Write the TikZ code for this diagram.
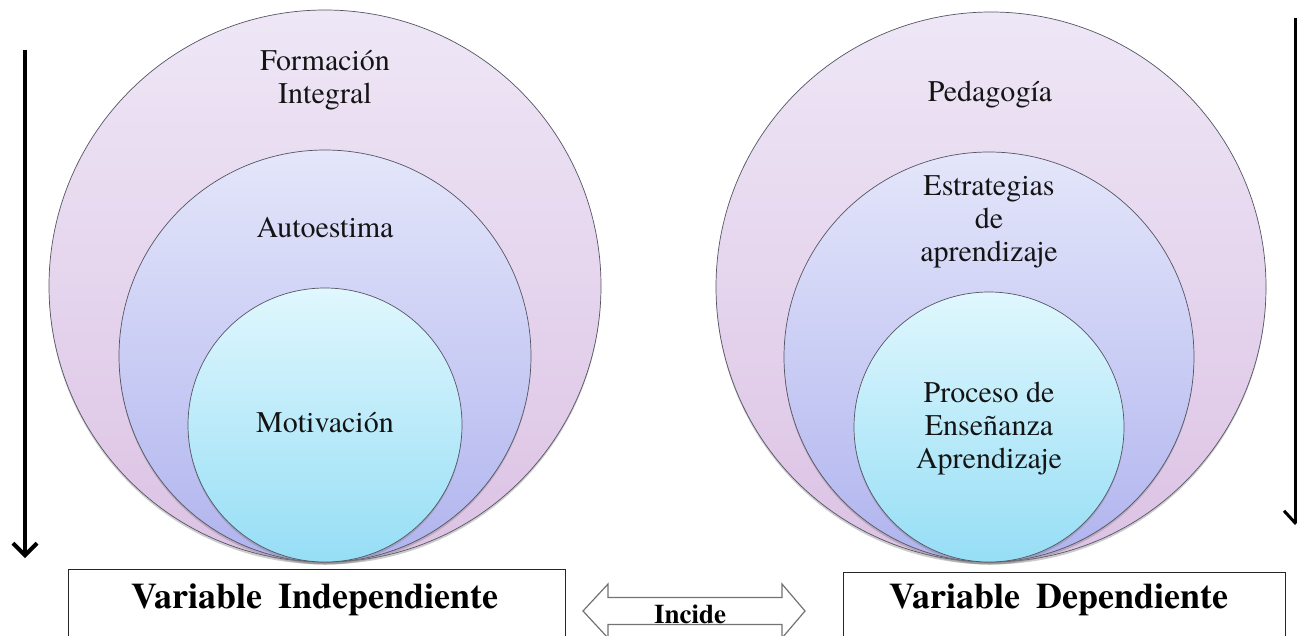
\documentclass[tikz,border=0pt]{standalone}
\usepackage{fontspec}
\setmainfont{TeX Gyre Termes}
\usetikzlibrary{arrows.meta,shadows}
\definecolor{outTop}{RGB}{238,231,246}
\definecolor{outBot}{RGB}{220,194,228}
\definecolor{midTop}{RGB}{228,230,250}
\definecolor{midBot}{RGB}{176,180,238}
\definecolor{inTop}{RGB}{224,247,253}
\definecolor{inBot}{RGB}{150,222,246}
\definecolor{ringLine}{RGB}{85,85,100}
\tikzset{
  ring/.style={circle, inner sep=0pt, draw=ringLine, line width=0.7pt,
     drop shadow={shadow xshift=0pt, shadow yshift=-2.5pt, opacity=0.4}},
  outring/.style={ring, top color=outTop, bottom color=outBot},
  midring/.style={ring, top color=midTop, bottom color=midBot},
  inring/.style={ring, top color=inTop, bottom color=inBot},
  lbl/.style={align=center, inner sep=0pt, text=black!92,
     font=\fontsize{30}{33}\selectfont},
  varbox/.style={draw=black!85, line width=1.2pt, fill=white, inner sep=0pt, anchor=north west},
  vartext/.style={inner sep=0pt, anchor=base, font=\bfseries\fontsize{36}{40}\selectfont},
  bigarrow/.style={line width=4pt, -{Straight Barb[length=12pt,width=24pt]}},
}
\begin{document}
\begin{tikzpicture}[x=1pt,y=-1pt]
\useasboundingbox (0,0) rectangle (1297,635);
\fill[white] (0,0) rectangle (1297,635);
% left circles
\node[outring, minimum size=552pt] (lo) at (325,286) {};
\node[midring, minimum size=412pt] (lm) at (325,356) {};
\node[inring, minimum size=274pt] (li) at (325,425) {};
\node[lbl] (tfi) at (325,80) {Formación\\Integral};
\node[lbl] (tau) at (325,228) {Autoestima};
\node[lbl] (tmo) at (325,423) {Motivación};
% right circles
\node[outring, minimum size=550pt] (ro) at (991,287) {};
\node[midring, minimum size=410pt] (rm) at (989,357) {};
\node[inring, minimum size=270pt] (ri) at (989,427) {};
\node[lbl] (tpe) at (990,95) {Pedagogía};
\node[lbl] (tes) at (989,222) {Estrategias\\de\\aprendizaje};
\node[lbl] (tpr) at (989,429) {Proceso de\\Enseñanza\\Aprendizaje};
% side arrows
\coordinate (la1) at (25,50);
\coordinate (la2) at (25,558);
\draw[bigarrow] (la1) -- (la2);
\coordinate (ra1) at (1295,18);
\coordinate (ra2) at (1295,525);
\draw[line width=3pt, -{Straight Barb[length=12pt,width=22pt]}] (ra1) -- (ra2);
% bottom boxes
\node[varbox, minimum width=497pt, minimum height=100pt] (vib) at (68,569) {};
\node[vartext] (vit) at (315,608) {Variable\hspace{0.45em}Independiente};
\node[varbox, minimum width=442pt, minimum height=100pt] (vdb) at (843,572) {};
\node[vartext] (vdt) at (1059,608) {Variable\hspace{0.45em}Dependiente};
% double arrow
\coordinate (dc) at (694,611);
\draw[draw=black!55, line width=1.2pt, fill=white]
  (583,611) -- (608,584) -- (608,597.5) -- (782,597.5) -- (782,584) -- (805,611)
  -- (782,638) -- (782,624.5) -- (608,624.5) -- (608,638) -- cycle;
\node[inner sep=0pt, anchor=base, font=\bfseries\fontsize{27}{30}\selectfont] (inc) at (690,623) {Incide};
\end{tikzpicture}
\end{document}
